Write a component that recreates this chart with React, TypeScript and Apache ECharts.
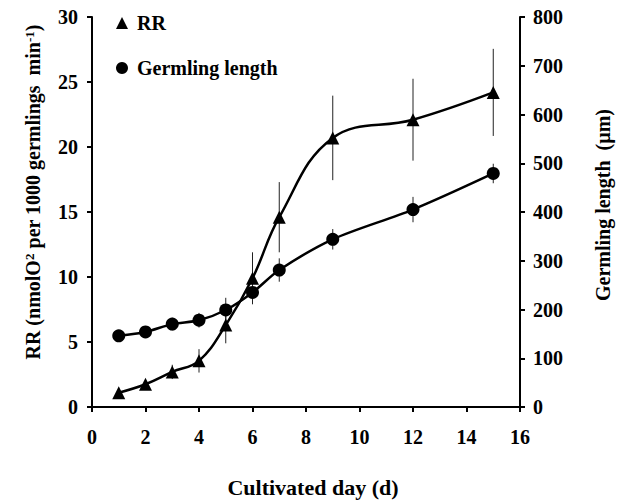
import React, { useEffect, useRef } from "react";
import * as echarts from "echarts";

const days = [1, 2, 3, 4, 5, 6, 7, 9, 12, 15];
const rrValues = [1.1, 1.75, 2.7, 3.55, 6.3, 9.9, 14.6, 20.7, 22.1, 24.2];
const rrErrors = [0.15, 0.25, 0.55, 0.9, 1.4, 2.0, 2.7, 3.25, 3.15, 3.35];
const lengthValues = [146, 154, 170, 178, 199, 235, 281, 344, 405, 479];
const lengthErrors = [4, 5, 13, 15, 25, 21, 24, 21, 26, 20];
const xTicks = { min: 0, max: 16, interval: 2 };
const leftTicks = { min: 0, max: 30, interval: 5 };
const rightTicks = { min: 0, max: 800, interval: 100 };

const FONT = "'Liberation Serif', 'Times New Roman', serif";

export default function App() {
  const ref = useRef<HTMLDivElement>(null);
  useEffect(() => {
    if (!ref.current) return;
    const chart = echarts.init(ref.current, null, { renderer: "svg" });
    const axisCommon = {
      axisLine: { show: true, lineStyle: { color: "#000", width: 2 } },
      axisTick: { show: true, inside: false, length: 5, lineStyle: { color: "#000", width: 2 } },
      splitLine: { show: false },
      axisLabel: { color: "#000", fontSize: 20, fontWeight: "bold", fontFamily: FONT },
      nameTextStyle: { color: "#000", fontSize: 20, fontWeight: "bold", fontFamily: FONT },
    };
    const errItem = (params: any, api: any) => {
      const x = api.value(0);
      const p1 = api.coord([x, api.value(1)]);
      const p2 = api.coord([x, api.value(2)]);
      return {
        type: "line",
        shape: { x1: p1[0], y1: p1[1], x2: p2[0], y2: p2[1] },
        style: { stroke: "#222", lineWidth: 1 },
      };
    };
    const rrErrData = days.map((d, i) => [d, rrValues[i] - rrErrors[i], rrValues[i] + rrErrors[i]]);
    const lenErrData = days.map((d, i) => [d, lengthValues[i] - lengthErrors[i], lengthValues[i] + lengthErrors[i]]);
    const nameStyle = { fill: "#000", fontSize: 20, fontWeight: "bold", fontFamily: FONT };

    chart.setOption({
      animation: false,
      backgroundColor: "#fff",
      grid: { left: 92, right: 109, top: 17, bottom: 90, containLabel: false },
      graphic: [
        {
          type: "text",
          x: 33,
          y: 192,
          rotation: Math.PI / 2,
          style: {
            ...nameStyle,
            text: "RR (nmolO{sup|2} per 1000 germlings  min{sup|-1})",
            align: "center",
            verticalAlign: "middle",
            rich: {
              sup: { fontSize: 13, fontWeight: "bold", fontFamily: FONT, fill: "#000", verticalAlign: "top", lineHeight: 20 },
            },
          },
        },
        {
          type: "text",
          x: 603,
          y: 205,
          rotation: Math.PI / 2,
          style: {
            ...nameStyle,
            text: "Germling length  (µm)",
            align: "center",
            verticalAlign: "middle",
          },
        },
      ],
      legend: {
        orient: "vertical",
        left: 116,
        top: 13,
        padding: 0,
        itemGap: 25,
        itemWidth: 12,
        itemHeight: 12,
        textStyle: { color: "#000", fontSize: 20, fontWeight: "bold", fontFamily: FONT, padding: [0, 0, 0, 4] },
        data: [
          { name: "RR", icon: "triangle" },
          { name: "Germling length", icon: "circle" },
        ],
      },
      xAxis: {
        type: "value",
        ...xTicks,
        ...axisCommon,
        axisLabel: { ...axisCommon.axisLabel, margin: 20 },
        name: "Cultivated day (d)",
        nameLocation: "middle",
        nameGap: 69,
        nameTextStyle: { ...axisCommon.nameTextStyle, fontSize: 22, padding: [0, 0, 0, 14] },
      },
      yAxis: [
        {
          type: "value",
          position: "left",
          ...leftTicks,
          ...axisCommon,
          axisLabel: { ...axisCommon.axisLabel, margin: 14 },
        },
        {
          type: "value",
          position: "right",
          ...rightTicks,
          ...axisCommon,
          axisLabel: { ...axisCommon.axisLabel, margin: 13 },
        },
      ],
      series: [
        {
          name: "RR error",
          type: "custom",
          xAxisIndex: 0,
          yAxisIndex: 0,
          renderItem: errItem,
          encode: { x: 0, y: [1, 2] },
          data: rrErrData,
          z: 1,
          silent: true,
        },
        {
          name: "Length error",
          type: "custom",
          xAxisIndex: 0,
          yAxisIndex: 1,
          renderItem: errItem,
          encode: { x: 0, y: [1, 2] },
          data: lenErrData,
          z: 1,
          silent: true,
        },
        {
          name: "RR",
          type: "line",
          yAxisIndex: 0,
          smooth: 0.4,
          symbol: "triangle",
          symbolSize: 13,
          data: days.map((d, i) => [d, rrValues[i]]),
          lineStyle: { color: "#000", width: 2.5 },
          itemStyle: { color: "#000" },
          z: 3,
        },
        {
          name: "Germling length",
          type: "line",
          yAxisIndex: 1,
          smooth: 0.3,
          symbol: "circle",
          symbolSize: 13,
          data: days.map((d, i) => [d, lengthValues[i]]),
          lineStyle: { color: "#000", width: 2.5 },
          itemStyle: { color: "#000" },
          z: 3,
        },
      ],
    });
    return () => chart.dispose();
  }, []);
  return (
    <div
      ref={ref}
      style={{ position: "fixed", left: 0, top: 0, width: 629, height: 503, background: "#fff" }}
    />
  );
}
